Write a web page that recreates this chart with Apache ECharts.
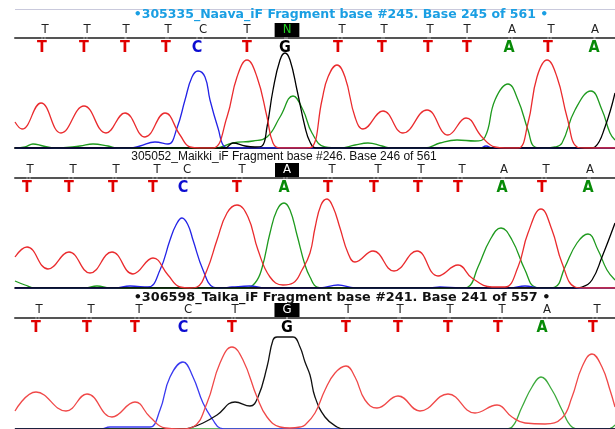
<!DOCTYPE html>
<html><head><meta charset="utf-8">
<script src="https://cdn.jsdelivr.net/npm/echarts@6/dist/echarts.min.js"></script>
<style>html,body{margin:0;padding:0;background:#fff}#c{width:615px;height:429px}</style>
</head><body><div id="c"></div>
<script>
// ---- Panel 1: 305335_Naava_iF ----
const naavaTitle = '\u2022305335_Naava_iF Fragment base #245. Base 245 of 561 \u2022';
const naavaCalls = ['T','T','T','T','C','T','N','T','T','T','T','A','T','A'];
const naavaCallPos = [30,72,111,153,188,232,272,327,369,415,452,497,536,580];
const naavaBases = ['T','T','T','T','C','T','G','T','T','T','T','A','T','A'];
const naavaBasePos = [27,69,110,151,182,232,270,323,367,413,452,494,533,579];
const naavaT = [[0,26],[7,19],[26,45],[46,15],[69,42],[91,15],[110,35],[130,11],[150,35],[165,13],[175,1],[185,0],[198,0],[212,31],[222,71],[232,88],[242,71],[252,31],[258,5],[265,0],[290,0],[297,1],[307,48],[313,71],[322,83],[330,71],[340,31],[348,19],[368,37],[388,15],[412,38],[433,13],[451,30],[467,11],[480,1],[490,0],[503,0],[513,25],[522,71],[532,88],[542,71],[552,31],[562,1],[570,0],[600,0]];
const naavaC = [[0,0],[115,0],[125,2],[140,6],[153,4],[162,20],[170,48],[177,71],[183,77],[190,71],[195,48],[203,20],[210,1],[217,0],[465,0],[471,2],[478,0],[600,0]];
const naavaG = [[0,0],[210,0],[218,5],[230,2],[240,1],[247,2],[252,21],[258,58],[265,88],[270,95],[275,88],[282,58],[290,21],[295,6],[301,0],[575,0],[580,1],[590,21],[600,55]];
const naavaA = [[0,0],[10,1],[18,4],[28,2],[40,0],[65,2],[78,4],[93,2],[103,0],[200,0],[218,5],[238,7],[252,11],[265,31],[278,52],[288,38],[297,15],[310,1],[325,0],[340,3],[353,5],[367,2],[377,0],[410,0],[425,5],[442,8],[460,7],[470,11],[480,48],[493,64],[503,48],[513,18],[520,1],[530,0],[540,1],[547,5],[560,38],[576,57],[587,38],[595,15],[600,8]];

// ---- Panel 2: 305052_Maikki_iF ----
const maikkiTitle = '305052_Maikki_iF Fragment base #246. Base 246 of 561';
const maikkiCalls = ['T','T','T','T','C','T','A','T','T','T','T','A','T','A'];
const maikkiCallPos = [15,58,101,142,172,227,272,317,363,406,447,489,531,575];
const maikkiBases = ['T','T','T','T','C','T','A','T','T','T','T','A','T','A'];
const maikkiBasePos = [12,54,98,138,168,222,269,313,359,403,443,487,527,573];
const maikkiT = [[0,31],[12,41],[33,19],[54,36],[75,15],[97,36],[118,14],[138,30],[153,13],[165,1],[175,0],[182,1],[192,18],[202,48],[212,75],[222,83],[233,71],[243,38],[255,11],[268,3],[278,5],[287,18],[295,35],[300,60],[306,83],[312,89],[318,81],[325,60],[333,35],[340,26],[358,37],[379,17],[402,37],[423,12],[443,23],[457,10],[477,1],[490,1],[503,21],[513,55],[526,79],[537,58],[547,25],[560,1],[570,0],[600,0]];
const maikkiC = [[0,0],[100,0],[115,2],[133,1],[145,18],[155,48],[161,63],[167,70],[173,63],[178,48],[188,18],[198,1],[205,0],[217,1],[235,2],[250,0],[305,0],[323,3],[340,0],[415,0],[425,1],[445,0],[495,0],[510,2],[525,0],[600,0]];
const maikkiA = [[0,7],[10,3],[20,0],[70,0],[82,2],[95,0],[230,0],[240,5],[247,20],[255,55],[262,78],[269,85],[275,78],[282,53],[290,23],[295,11],[302,1],[310,0],[445,0],[453,1],[463,21],[475,48],[486,60],[497,48],[510,18],[520,1],[530,0],[540,1],[550,21],[562,45],[573,54],[583,38],[592,18],[600,8]];
const maikkiG = [[0,0],[560,0],[567,1],[577,8],[587,31],[600,65]];

// ---- Panel 3: 306598_Taika_iF ----
const taikaTitle = '\u2022306598_Taika_iF Fragment base #241. Base 241 of 557 \u2022';
const taikaCalls = ['T','T','T','C','T','G','T','T','T','T','A','T'];
const taikaCallPos = [24,76,124,173,220,272,333,385,435,487,532,582];
const taikaBases = ['T','T','T','C','T','G','T','T','T','T','A','T'];
const taikaBasePos = [21,72,120,168,217,272,331,383,433,483,527,578];
const taikaT = [[0,18],[21,37],[51,18],[72,35],[97,12],[120,27],[135,12],[150,1],[165,0],[178,2],[192,26],[205,66],[217,82],[228,69],[242,32],[252,12],[265,2],[275,1],[285,2],[290,4],[300,16],[310,39],[320,56],[331,63],[340,52],[350,29],[362,21],[383,33],[405,18],[433,35],[460,16],[482,24],[497,12],[510,6],[530,5],[547,11],[557,32],[567,62],[577,75],[587,62],[595,39],[600,22]];
const taikaC = [[0,0],[85,0],[95,2],[125,2],[135,2],[145,19],[155,52],[168,67],[178,52],[188,26],[198,9],[205,1],[213,0],[600,0]];
const taikaG = [[0,0],[170,0],[175,1],[188,6],[202,14],[220,27],[235,23],[243,32],[252,62],[258,89],[262,92],[278,92],[285,82],[290,67],[295,54],[300,32],[310,12],[322,2],[330,0],[600,0]];
const taikaA = [[0,0],[490,0],[497,2],[507,22],[517,42],[526,52],[537,39],[547,19],[557,2],[565,0],[593,0],[600,4]];

const panels = [
  {title: naavaTitle, tColor:'#1a9fe3', tFont:'bold 12.5px "DejaVu Sans"', tx:341, ty:15,
   calls:naavaCalls, callPos:naavaCallPos, bases:naavaBases, basePos:naavaBasePos, hi:6, hiColor:'#22d022',
   tr:{T:naavaT,C:naavaC,G:naavaG,A:naavaA}, top:38, height:110, axisColor:'#111',
   col:{T:'#ea2b2e',C:'#2323e6',G:'#000',A:'#1e9a1e'}},
  {title: maikkiTitle, tColor:'#111', tFont:'12px "Liberation Sans"', tx:284, ty:157,
   calls:maikkiCalls, callPos:maikkiCallPos, bases:maikkiBases, basePos:maikkiBasePos, hi:6, hiColor:'#fff',
   tr:{T:maikkiT,C:maikkiC,G:maikkiG,A:maikkiA}, top:178, height:110, axisColor:'#555',
   col:{T:'#ea2b2e',C:'#2323e6',G:'#000',A:'#1e9a1e'}},
  {title: taikaTitle, tColor:'#111', tFont:'bold 12.8px "DejaVu Sans"', tx:342, ty:298,
   calls:taikaCalls, callPos:taikaCallPos, bases:taikaBases, basePos:taikaBasePos, hi:5, hiColor:'#fff',
   tr:{T:taikaT,C:taikaC,G:taikaG,A:taikaA}, top:318, height:111, axisColor:'#ccc',
   col:{T:'#f04848',C:'#3a3af0',G:'#111',A:'#3caa3c'}}
];
const letterColor = {T:'#e00000', C:'#0c0cd0', A:'#078a07', G:'#000', N:'#000'};
const narrow = "'Liberation Sans Narrow','DejaVu Sans Condensed',sans-serif";

const grid = [], xAxis = [], yAxis = [], series = [], graphic = [];
graphic.push({type:'line', shape:{x1:15,y1:9.5,x2:615,y2:9.5}, style:{stroke:'#c9c9dc', lineWidth:1}});
panels.forEach((p, i) => {
  grid.push({left:15, right:0, top:p.top, height:p.height});
  xAxis.push({type:'value', gridIndex:i, min:0, max:600, position:'bottom',
    axisLine:{show:true, onZero:false, lineStyle:{color:p.axisColor, width:2}}, axisTick:{show:false}, axisLabel:{show:false}, splitLine:{show:false}});
  xAxis.push({type:'value', gridIndex:i, min:0, max:600, position:'top',
    axisLine:{show:true, onZero:false, lineStyle:{color:'#555', width:2}}, axisTick:{show:false}, axisLabel:{show:false}, splitLine:{show:false}});
  yAxis.push({type:'value', gridIndex:i, min:0, max:p.height, show:false});
  ['A','C','G','T'].forEach(k => {
    series.push({type:'line', xAxisIndex:2*i, yAxisIndex:i, data:p.tr[k], smooth:0.45, showSymbol:false,
      lineStyle:{color:p.col[k], width:1.3}, itemStyle:{color:p.col[k]}, clip:true, silent:true, z:2});
  });
  // upper (original) calls
  series.push({type:'scatter', xAxisIndex:2*i, yAxisIndex:i, symbol:'rect', symbolSize:1, itemStyle:{color:'#fff', opacity:1},
    clip:false, z:5, silent:true,
    data:p.calls.map((b, j) => ({name:b, value:[p.callPos[j], p.height],
      label: j === p.hi ? {color:p.hiColor, backgroundColor:'#000', padding:[1,8,0,8]} : {color:'#222'}})),
    label:{show:true, opacity:1, formatter:'{b}', position:'inside', offset:[0,-8], fontFamily:narrow, fontSize:13, fontWeight:'normal'}});
  // lower (coloured) calls
  series.push({type:'scatter', xAxisIndex:2*i, yAxisIndex:i, symbol:'rect', symbolSize:1, itemStyle:{color:'#fff', opacity:1},
    clip:false, z:5, silent:true,
    data:p.bases.map((b, j) => ({name:b, value:[p.basePos[j], p.height], label:{color:letterColor[b]}})),
    label:{show:true, opacity:1, formatter:'{b}', position:'inside', offset:[0,10], fontFamily:narrow, fontSize:16, fontWeight:'bold'}});
  graphic.push({type:'text', x:p.tx, y:p.ty, z:10, style:{text:p.title, fill:p.tColor, font:p.tFont, align:'center', verticalAlign:'middle'}});
});

const chart = echarts.init(document.getElementById('c'), null, {renderer:'canvas'});
chart.setOption({animation:false, backgroundColor:'#fff', grid, xAxis, yAxis, series, graphic});
</script></body></html>
